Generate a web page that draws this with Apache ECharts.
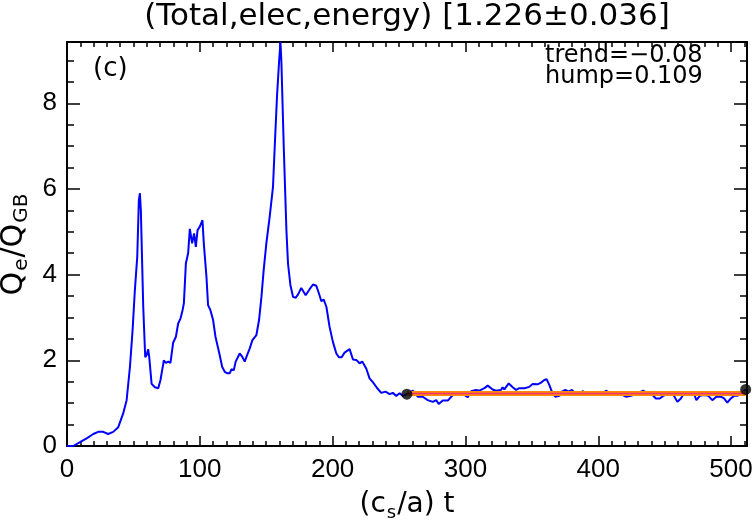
<!DOCTYPE html>
<html>
<head>
<meta charset="utf-8">
<script src="https://cdn.jsdelivr.net/npm/echarts@6/dist/echarts.min.js"></script>
<style>
html,body{margin:0;padding:0;background:#fff;}
#c{width:754px;height:523px;}
</style>
</head>
<body>
<div id="c"></div>
<script>
const times = [0,4.7,9.8,14.8,19.8,23.5,27.3,31,34.8,38.6,42.3,44.9,47.4,49.4,51.1,52.9,54.1,54.9,55.6,57.4,58.9,59.9,61.1,61.9,63.7,66.2,68.7,70.4,72.9,74.4,76.2,77.9,79.9,82,83.7,85.5,87,88,89.5,91.2,92.5,94.2,95.7,97,98.3,100,102,103,105,106.2,108,110,111.8,113,115,116.8,118.8,120.5,122.6,123.8,125.6,127,130,132,133.8,135.6,137.6,139.6,142.6,144.6,146.4,148.1,150.1,152.6,155.1,156.4,158.1,159.6,160.7,161.4,163.2,165.2,166.4,168.2,170.2,172.2,174,176.4,179.7,182.7,185.2,187.7,189.7,191.5,193.2,195.3,197.7,200.2,202.8,204.7,206.8,209,212.8,215.3,217.8,220.3,222.3,225.3,227.8,230.3,233.3,236.6,239.8,242.9,245.3,247.9,250.4,252.9,255.9,260.4,264.1,267.9,271.6,275.4,278,279.9,282.9,286.7,290.5,295.5,299.2,301.7,304.3,308,310.5,314.3,316.8,320.5,323,326.8,328,329.3,332.6,335.6,338.1,340.6,344.4,348.1,350.6,354.4,356.9,359.4,361.1,363.2,365.6,367.7,370.7,372.7,375.2,377.7,380.2,383.2,385.7,388.2,392,395.7,399.5,403.2,405.8,409.5,413.3,417,420.8,424.6,429.6,433.8,437.1,440.8,443.4,446.4,448.9,453.4,455.9,459.6,462.2,464.7,468.4,472.2,473.9,476.5,479.7,482.9,485.9,488.9,492.3,494.7,497.2,499.8,502.3,504.8,507.3,511];
const qe = [0,0,0.09,0.18,0.28,0.33,0.33,0.28,0.33,0.44,0.76,1.07,1.85,2.71,3.64,4.42,5.74,5.90,5.5,3.25,2.07,2.12,2.26,2.08,1.45,1.37,1.35,1.54,2.0,1.94,1.97,1.94,2.41,2.55,2.86,2.98,3.17,3.33,4.26,4.5,5.07,4.73,4.96,4.65,5.04,5.12,5.27,4.73,3.95,3.29,3.17,2.94,2.55,2.57,2.12,1.85,1.73,1.70,1.70,1.79,1.77,1.97,2.16,2.08,1.97,2.12,2.28,2.47,2.59,2.94,3.48,4.11,4.73,5.35,6.05,6.98,8.15,8.93,9.43,9.0,6.98,5.04,4.26,3.76,3.48,3.46,3.54,3.69,3.52,3.66,3.77,3.74,3.56,3.38,3.42,3.25,2.78,2.43,2.16,2.07,2.07,2.18,2.26,2.02,2.01,1.93,1.97,1.81,1.58,1.49,1.36,1.24,1.27,1.21,1.24,1.17,1.23,1.17,1.21,1.29,1.15,1.15,1.07,1.03,1.07,0.98,1.06,1.06,1.19,1.23,1.19,1.14,1.28,1.31,1.29,1.35,1.41,1.32,1.29,1.31,1.37,1.32,1.46,1.37,1.31,1.35,1.35,1.38,1.45,1.44,1.48,1.54,1.56,1.42,1.23,1.15,1.17,1.27,1.31,1.27,1.31,1.21,1.19,1.28,1.23,1.21,1.24,1.21,1.29,1.23,1.23,1.21,1.15,1.17,1.23,1.29,1.23,1.19,1.11,1.11,1.17,1.23,1.23,1.03,1.11,1.23,1.21,1.21,1.07,1.17,1.19,1.17,1.07,1.15,1.15,1.11,1.01,1.11,1.17,1.17,1.23,1.32];
const avgWindow = [256, 511];
const avgValue = 1.226;
const endPoints = [[255.9, 1.21], [511, 1.32]];
const xTickLabels = ['0','100','200','300','400','500'];
const yTickLabels = ['0','2','4','6','8'];
const titleText = '(Total,elec,energy) [1.226\u00b10.036]';
const panelLabel = '(c)';
const statLines = ['trend=\u22120.08', 'hump=0.109'];

const XMIN = 0, XMAX = 512, YMIN = 0, YMAX = 9.43;
const tickFont = 'Liberation Sans';
const textFont = 'DejaVu Sans';

function xAx(pos, major, showLabel) {
  return {
    type: 'value', position: pos, min: XMIN, max: XMAX,
    interval: major ? 100 : 10,
    axisLine: {show: major, onZero: false, lineStyle: {color: '#000', width: 2}},
    axisTick: {show: true, inside: true, length: major ? 10 : 5, lineStyle: {color: '#000', width: 1.5}},
    splitLine: {show: false},
    axisLabel: showLabel ? {
      show: true, margin: 11, color: '#000', fontFamily: tickFont, fontSize: 26,
      showMaxLabel: false,
      formatter: v => { const s = String(Math.round(v)); return xTickLabels.indexOf(s) >= 0 ? s : ''; }
    } : {show: false},
    name: (showLabel ? '(c{s|s}/a) t' : ''),
    nameLocation: 'middle', nameGap: 39,
    nameTextStyle: {
      color: '#000', fontFamily: textFont, fontSize: 28, lineHeight: 34,
      rich: {s: {fontFamily: textFont, fontSize: 18, lineHeight: 18, verticalAlign: 'bottom', padding: [0,1,0,1]}}
    }
  };
}
function yAx(pos, major, showLabel) {
  return {
    type: 'value', position: pos, min: YMIN, max: YMAX,
    interval: major ? 2 : 0.5,
    axisLine: {show: major, onZero: false, lineStyle: {color: '#000', width: 2}},
    axisTick: {show: true, inside: true, length: major ? 13 : 7, lineStyle: {color: '#000', width: 1.5}},
    splitLine: {show: false},
    axisLabel: showLabel ? {
      show: true, margin: 10, color: '#000', fontFamily: tickFont, fontSize: 26,
      showMaxLabel: false,
      formatter: v => { const s = String(Math.round(v)); return (Math.abs(v - Math.round(v)) < 1e-6 && yTickLabels.indexOf(s) >= 0) ? s : ''; }
    } : {show: false},
    name: (showLabel ? 'Q{s|e}/Q{s|GB}' : ''),
    nameLocation: 'middle', nameGap: 29,
    nameTextStyle: {
      color: '#000', fontFamily: textFont, fontSize: 30, lineHeight: 34,
      rich: {s: {fontFamily: textFont, fontSize: 20, lineHeight: 20, verticalAlign: 'bottom', padding: [0,1,0,1]}}
    }
  };
}

const chart = echarts.init(document.getElementById('c'));
const lineData = times.map((t, i) => [t, qe[i]]);
chart.setOption({
  animation: false,
  backgroundColor: '#fff',
  grid: {left: 67, right: 7, top: 42, bottom: 77, containLabel: false, outerBoundsMode: 'none'},
  xAxis: [xAx('bottom', true, true), xAx('bottom', false, false), xAx('top', true, false), xAx('top', false, false)],
  yAxis: [yAx('left', true, true), yAx('left', false, false), yAx('right', true, false), yAx('right', false, false)],
  graphic: [
    {type: 'text', x: 407, y: 1, style: {text: titleText, textAlign: 'center', fontFamily: textFont, fontSize: 31, fill: '#000'}},
    {type: 'text', x: 93, y: 56, style: {text: panelLabel, fontFamily: textFont, fontSize: 26, fill: '#000'}},
    {type: 'text', x: 545, y: 45, style: {text: statLines.join('\n'), fontFamily: textFont, fontSize: 24, lineHeight: 21, fill: '#000'}}
  ],
  series: [
    {type: 'line', xAxisIndex: 0, yAxisIndex: 0, data: lineData, showSymbol: false, symbol: 'none',
     lineStyle: {color: '#0000ff', width: 2}, z: 2},
    {type: 'line', xAxisIndex: 0, yAxisIndex: 0, data: avgWindow.map(t => [t, avgValue]), symbol: 'none',
     lineStyle: {color: '#ff8a00', width: 5}, z: 3},
    {type: 'line', xAxisIndex: 0, yAxisIndex: 0, data: avgWindow.map(t => [t, avgValue]), symbol: 'none',
     lineStyle: {color: '#f0307a', width: 1.5}, z: 4},
    {type: 'scatter', xAxisIndex: 0, yAxisIndex: 0, data: endPoints, symbol: 'circle', symbolSize: 11,
     itemStyle: {color: '#000'}, z: 5}
  ]
});
</script>
</body>
</html>
